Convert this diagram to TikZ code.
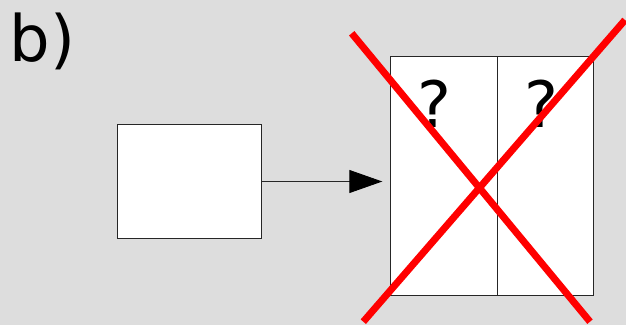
\documentclass[tikz,border=0pt]{standalone}
\usepackage{fontspec}
\setmainfont{DejaVu Sans}
\usetikzlibrary{arrows.meta}
\definecolor{bggray}{RGB}{221,221,221}
\tikzset{
  box/.style={draw=black!85, fill=white, line width=0.9pt, inner sep=0pt, outer sep=0pt, anchor=north west},
  bigtext/.style={inner sep=0pt, font=\fontsize{64}{70}\selectfont},
  cross/.style={draw=red, line width=7pt},
  conn/.style={draw=black!85, line width=0.9pt, -{Triangle[length=33pt,width=23pt,color=black]}}
}
\begin{document}
\begin{tikzpicture}[x=1pt,y=-1pt]
\fill[bggray] (0,0) rectangle (626,325);
\useasboundingbox (0,0) rectangle (626,325);
\node[bigtext, anchor=base west] (lbl) at (9.5,61) {b)};
\node[box, minimum width=144.4pt, minimum height=113.6pt] (A) at (117.3,124.7) {};
\node[box, minimum width=107pt, minimum height=239pt] (L) at (390.7,56.7) {};
\node[box, minimum width=95.6pt, minimum height=239pt] (R) at (497.7,56.7) {};
\node[bigtext, anchor=base] (q1) at (434,127.7) {?};
\node[bigtext, anchor=base] (q2) at (541.5,127.7) {?};
\draw[conn, shorten >=8.4pt] (A.east) -- (L.west |- A.east);
\coordinate (c1a) at (351.7,33.3);
\coordinate (c1b) at (590,321.7);
\coordinate (c2a) at (625,20);
\coordinate (c2b) at (363.3,321.7);
\draw[cross] (c1a) -- (c1b);
\draw[cross] (c2a) -- (c2b);
\end{tikzpicture}
\end{document}
